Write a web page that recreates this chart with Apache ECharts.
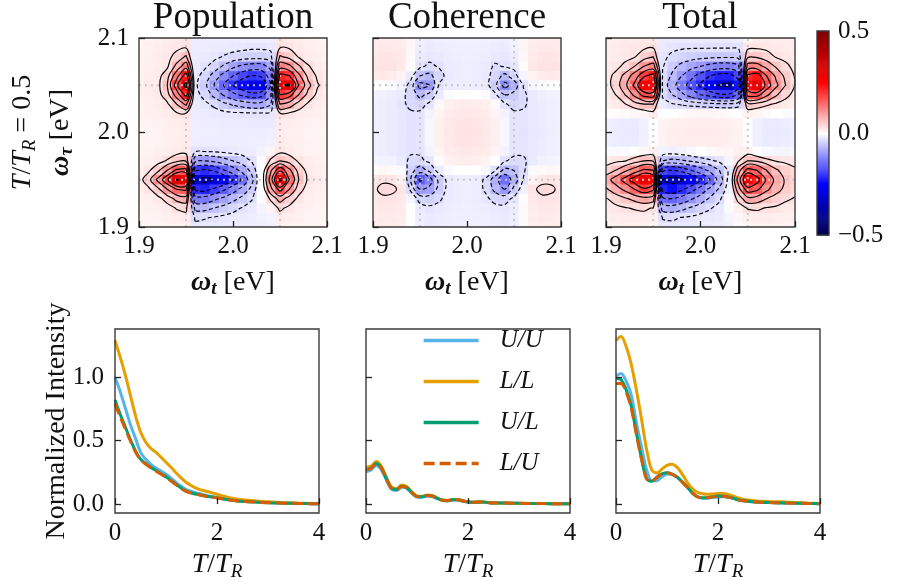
<!DOCTYPE html>
<html><head><meta charset="utf-8">
<script src="https://cdn.jsdelivr.net/npm/echarts@6/dist/echarts.min.js"></script>
<style>html,body{margin:0;padding:0;background:#fff}#c{width:901px;height:582px}</style>
</head><body><div id="c"></div>
<script>
// ---------------- data ----------------
const omegaT   = [1.90,1.91,1.92,1.93,1.94,1.95,1.96,1.97,1.98,1.99,2.00,2.01,2.02,2.03,2.04,2.05,2.06,2.07,2.08,2.09,2.10];
const omegaTau = [1.90,1.91,1.92,1.93,1.94,1.95,1.96,1.97,1.98,1.99,2.00,2.01,2.02,2.03,2.04,2.05,2.06,2.07,2.08,2.09,2.10];
const heatTicks = [1.9, 2.0, 2.1];
const resonances = [1.95, 2.05];
const contourLevels = [-0.3,-0.2,-0.15,-0.1,-0.06,-0.03,0.03,0.06,0.1,0.15,0.2,0.3];
const colorTicks = [-0.5, 0.0, 0.5];
// rows: omega_tau from 2.10 (first row) down to 1.90 (last row); columns: omega_t 1.90 .. 2.10
const popMap = [
 [0.010,0.012,0.015,0.018,0.020,0.025,-0.018,-0.018,-0.018,-0.018,-0.018,-0.018,-0.018,-0.018,-0.018,0.025,0.022,0.018,0.015,0.012,0.010],
 [0.012,0.014,0.017,0.020,0.024,0.028,-0.018,-0.018,-0.019,-0.020,-0.022,-0.024,-0.026,-0.026,-0.024,0.028,0.027,0.021,0.017,0.014,0.012],
 [0.013,0.015,0.018,0.022,0.040,0.065,-0.019,-0.021,-0.024,-0.032,-0.038,-0.042,-0.045,-0.045,-0.040,0.065,0.050,0.028,0.020,0.016,0.013],
 [0.014,0.016,0.019,0.025,0.070,0.130,-0.020,-0.026,-0.040,-0.065,-0.090,-0.110,-0.120,-0.120,-0.085,0.130,0.110,0.065,0.032,0.020,0.015],
 [0.015,0.018,0.021,0.045,0.130,0.230,-0.022,-0.040,-0.075,-0.115,-0.150,-0.180,-0.200,-0.190,-0.125,0.220,0.200,0.110,0.050,0.025,0.018],
 [0.016,0.020,0.022,0.060,0.180,0.330,-0.025,-0.050,-0.100,-0.150,-0.200,-0.240,-0.280,-0.270,-0.150,0.290,0.310,0.150,0.070,0.032,0.020],
 [0.015,0.018,0.021,0.045,0.120,0.220,-0.022,-0.038,-0.070,-0.105,-0.135,-0.160,-0.180,-0.170,-0.110,0.200,0.170,0.100,0.048,0.024,0.018],
 [0.014,0.016,0.018,0.025,0.060,0.110,-0.020,-0.025,-0.035,-0.050,-0.065,-0.075,-0.085,-0.085,-0.065,0.100,0.080,0.045,0.026,0.018,0.015],
 [0.013,0.014,0.016,0.020,0.026,0.028,-0.018,-0.019,-0.021,-0.023,-0.024,-0.025,-0.026,-0.026,-0.024,0.028,0.025,0.020,0.017,0.015,0.013],
 [0.012,0.013,0.014,0.016,0.018,0.020,-0.017,-0.018,-0.018,-0.019,-0.020,-0.020,-0.021,-0.021,-0.020,0.020,0.018,0.016,0.014,0.013,0.012],
 [0.010,0.011,0.012,0.014,0.016,0.018,-0.016,-0.017,-0.017,-0.018,-0.018,-0.018,-0.018,-0.018,-0.017,0.018,0.016,0.014,0.012,0.011,0.010],
 [0.011,0.012,0.013,0.015,0.017,0.020,-0.017,-0.018,-0.018,-0.018,-0.018,-0.018,-0.017,-0.016,-0.015,0.020,0.017,0.015,0.013,0.012,0.011],
 [0.012,0.013,0.015,0.017,0.020,0.022,-0.028,-0.029,-0.027,-0.024,-0.021,-0.019,-0.018,-0.012,0.010,0.024,0.020,0.016,0.013,0.012,0.011],
 [0.014,0.016,0.020,0.032,0.050,0.055,-0.090,-0.100,-0.090,-0.075,-0.060,-0.045,-0.028,-0.005,0.035,0.060,0.045,0.026,0.018,0.014,0.012],
 [0.016,0.025,0.050,0.100,0.160,0.170,-0.190,-0.210,-0.190,-0.155,-0.120,-0.085,-0.050,0.000,0.090,0.190,0.110,0.045,0.022,0.016,0.013],
 [0.020,0.045,0.110,0.190,0.305,0.280,-0.295,-0.330,-0.295,-0.250,-0.200,-0.140,-0.070,0.000,0.120,0.320,0.150,0.060,0.025,0.018,0.015],
 [0.016,0.025,0.050,0.100,0.150,0.160,-0.210,-0.220,-0.190,-0.160,-0.120,-0.085,-0.050,0.000,0.085,0.170,0.100,0.040,0.020,0.015,0.013],
 [0.014,0.016,0.022,0.040,0.070,0.080,-0.130,-0.130,-0.110,-0.090,-0.070,-0.050,-0.032,-0.005,0.035,0.075,0.045,0.024,0.016,0.013,0.012],
 [0.012,0.014,0.016,0.020,0.032,0.038,-0.070,-0.070,-0.060,-0.048,-0.038,-0.028,-0.022,-0.010,0.012,0.035,0.024,0.017,0.014,0.012,0.011],
 [0.011,0.012,0.013,0.015,0.018,0.020,-0.035,-0.032,-0.028,-0.024,-0.021,-0.019,-0.018,-0.015,-0.012,0.020,0.017,0.014,0.012,0.011,0.010],
 [0.010,0.010,0.011,0.012,0.014,0.016,-0.022,-0.021,-0.020,-0.019,-0.018,-0.018,-0.017,-0.016,-0.015,0.016,0.014,0.012,0.011,0.010,0.010]
];
const cohMap = [
 [0.018,0.020,0.020,0.018,0.008,-0.015,-0.018,-0.016,-0.015,-0.015,-0.015,-0.015,-0.015,-0.016,-0.018,-0.012,0.010,0.018,0.020,0.020,0.018],
 [0.020,0.022,0.022,0.020,0.008,-0.017,-0.020,-0.018,-0.017,-0.016,-0.016,-0.016,-0.017,-0.018,-0.020,-0.014,0.010,0.020,0.022,0.022,0.020],
 [0.022,0.025,0.025,0.022,0.006,-0.020,-0.024,-0.022,-0.018,-0.017,-0.016,-0.017,-0.018,-0.022,-0.024,-0.018,0.008,0.022,0.025,0.025,0.022],
 [0.024,0.027,0.027,0.023,0.002,-0.025,-0.035,-0.028,-0.020,-0.018,-0.017,-0.018,-0.020,-0.034,-0.028,-0.024,0.004,0.023,0.027,0.027,0.024],
 [0.020,0.022,0.020,0.012,-0.020,-0.060,-0.070,-0.040,-0.022,-0.018,-0.017,-0.018,-0.022,-0.040,-0.070,-0.040,-0.010,0.012,0.020,0.022,0.020],
 [0.002,0.000,-0.005,-0.012,-0.040,-0.115,-0.100,-0.028,-0.020,-0.018,-0.017,-0.018,-0.020,-0.050,-0.115,-0.080,-0.028,-0.010,-0.005,0.000,0.002],
 [-0.012,-0.015,-0.018,-0.022,-0.040,-0.070,-0.050,-0.020,-0.005,0.000,0.002,0.000,-0.005,-0.025,-0.060,-0.050,-0.035,-0.020,-0.016,-0.014,-0.012],
 [-0.015,-0.017,-0.020,-0.025,-0.035,-0.040,-0.025,0.005,0.015,0.018,0.020,0.018,0.015,0.005,-0.026,-0.040,-0.034,-0.022,-0.018,-0.016,-0.015],
 [-0.015,-0.017,-0.020,-0.024,-0.027,-0.025,-0.012,0.012,0.020,0.022,0.024,0.022,0.020,0.012,-0.012,-0.025,-0.026,-0.022,-0.018,-0.016,-0.015],
 [-0.015,-0.017,-0.020,-0.024,-0.027,-0.025,-0.008,0.015,0.022,0.025,0.026,0.025,0.022,0.015,-0.008,-0.025,-0.026,-0.022,-0.018,-0.016,-0.015],
 [-0.015,-0.017,-0.020,-0.024,-0.027,-0.025,-0.008,0.015,0.023,0.026,0.027,0.026,0.023,0.015,-0.008,-0.025,-0.027,-0.024,-0.020,-0.017,-0.015],
 [-0.015,-0.017,-0.020,-0.024,-0.027,-0.025,-0.008,0.015,0.022,0.025,0.026,0.025,0.022,0.015,-0.008,-0.025,-0.026,-0.022,-0.018,-0.016,-0.015],
 [-0.015,-0.017,-0.020,-0.024,-0.027,-0.026,-0.012,0.012,0.020,0.022,0.024,0.022,0.020,0.012,-0.012,-0.025,-0.026,-0.022,-0.018,-0.016,-0.015],
 [-0.010,-0.012,-0.014,-0.020,-0.035,-0.035,-0.025,0.002,0.014,0.017,0.019,0.017,0.012,0.000,-0.028,-0.035,-0.034,-0.020,-0.014,-0.012,-0.010],
 [0.005,0.008,0.005,-0.005,-0.045,-0.080,-0.050,-0.020,-0.005,0.000,0.002,0.000,-0.008,-0.028,-0.070,-0.060,-0.035,-0.005,0.006,0.008,0.005],
 [0.022,0.026,0.026,0.015,-0.060,-0.160,-0.120,-0.050,-0.022,-0.018,-0.017,-0.018,-0.035,-0.080,-0.140,-0.080,-0.028,0.012,0.024,0.026,0.022],
 [0.025,0.036,0.034,0.026,-0.035,-0.100,-0.090,-0.050,-0.022,-0.018,-0.017,-0.018,-0.035,-0.070,-0.100,-0.050,-0.015,0.026,0.036,0.033,0.025],
 [0.022,0.026,0.026,0.022,-0.010,-0.040,-0.045,-0.035,-0.020,-0.018,-0.017,-0.018,-0.024,-0.040,-0.040,-0.025,0.002,0.022,0.026,0.026,0.022],
 [0.020,0.023,0.023,0.020,0.000,-0.020,-0.025,-0.022,-0.018,-0.017,-0.016,-0.017,-0.018,-0.022,-0.024,-0.018,0.006,0.020,0.023,0.023,0.020],
 [0.018,0.021,0.021,0.018,0.002,-0.018,-0.022,-0.019,-0.017,-0.016,-0.016,-0.016,-0.017,-0.019,-0.021,-0.016,0.006,0.018,0.021,0.021,0.018],
 [0.016,0.019,0.019,0.016,0.002,-0.016,-0.020,-0.018,-0.016,-0.015,-0.015,-0.015,-0.016,-0.018,-0.020,-0.015,0.005,0.016,0.019,0.019,0.016]
];
const totMap = [
 [0.016,0.018,0.020,0.020,0.020,0.018,-0.018,-0.020,-0.020,-0.020,-0.020,-0.020,-0.020,-0.020,-0.018,0.012,0.018,0.020,0.020,0.019,0.018],
 [0.018,0.020,0.022,0.024,0.026,0.028,-0.022,-0.025,-0.027,-0.028,-0.028,-0.028,-0.028,-0.028,-0.027,0.024,0.026,0.024,0.022,0.020,0.018],
 [0.018,0.020,0.024,0.028,0.045,0.060,-0.025,-0.035,-0.042,-0.046,-0.050,-0.053,-0.055,-0.055,-0.050,0.055,0.055,0.042,0.028,0.024,0.020],
 [0.020,0.024,0.035,0.060,0.100,0.120,-0.028,-0.050,-0.070,-0.085,-0.100,-0.115,-0.125,-0.125,-0.110,0.120,0.120,0.085,0.055,0.035,0.024],
 [0.022,0.035,0.070,0.120,0.190,0.220,-0.035,-0.065,-0.100,-0.135,-0.170,-0.200,-0.220,-0.220,-0.180,0.210,0.230,0.150,0.090,0.050,0.028],
 [0.020,0.040,0.085,0.160,0.270,0.260,-0.040,-0.080,-0.130,-0.170,-0.210,-0.260,-0.310,-0.320,-0.230,0.240,0.290,0.180,0.110,0.060,0.030],
 [0.018,0.030,0.060,0.110,0.170,0.180,-0.035,-0.060,-0.090,-0.120,-0.150,-0.170,-0.190,-0.190,-0.150,0.170,0.170,0.110,0.065,0.038,0.022],
 [0.015,0.020,0.028,0.045,0.060,0.060,-0.020,-0.028,-0.034,-0.040,-0.045,-0.050,-0.052,-0.052,-0.042,0.050,0.045,0.035,0.026,0.020,0.016],
 [0.002,0.003,0.005,0.008,0.012,0.020,-0.002,0.000,0.004,0.008,0.010,0.010,0.008,0.004,0.000,0.014,0.010,0.005,0.000,-0.003,-0.005],
 [-0.015,-0.018,-0.020,-0.020,-0.015,0.000,0.012,0.015,0.017,0.018,0.018,0.018,0.017,0.015,0.012,0.000,-0.015,-0.020,-0.020,-0.018,-0.015],
 [-0.016,-0.019,-0.021,-0.021,-0.016,0.000,0.013,0.017,0.019,0.020,0.020,0.020,0.019,0.017,0.013,0.000,-0.016,-0.021,-0.021,-0.019,-0.016],
 [-0.015,-0.018,-0.020,-0.020,-0.015,0.002,0.013,0.016,0.018,0.019,0.019,0.019,0.018,0.016,0.013,0.002,-0.015,-0.020,-0.020,-0.018,-0.015],
 [-0.004,-0.005,-0.004,0.000,0.008,0.015,-0.012,-0.016,-0.012,-0.006,0.000,0.005,0.008,0.010,0.014,0.016,0.002,-0.006,-0.010,-0.010,-0.008],
 [0.020,0.025,0.028,0.045,0.060,0.055,-0.060,-0.070,-0.065,-0.055,-0.045,-0.035,-0.025,-0.010,0.028,0.060,0.055,0.040,0.028,0.025,0.020],
 [0.040,0.060,0.090,0.120,0.160,0.150,-0.180,-0.200,-0.180,-0.150,-0.120,-0.090,-0.060,-0.025,0.080,0.170,0.150,0.100,0.065,0.045,0.035],
 [0.080,0.120,0.170,0.230,0.290,0.250,-0.310,-0.340,-0.310,-0.260,-0.210,-0.150,-0.080,-0.020,0.120,0.280,0.220,0.140,0.085,0.055,0.040],
 [0.055,0.080,0.110,0.150,0.190,0.160,-0.220,-0.240,-0.210,-0.170,-0.130,-0.090,-0.055,-0.015,0.080,0.180,0.160,0.110,0.075,0.050,0.038],
 [0.028,0.040,0.055,0.070,0.085,0.075,-0.140,-0.150,-0.130,-0.105,-0.080,-0.055,-0.035,-0.005,0.040,0.085,0.080,0.060,0.045,0.034,0.028],
 [0.020,0.024,0.028,0.032,0.035,0.028,-0.075,-0.080,-0.070,-0.055,-0.042,-0.032,-0.022,-0.005,0.015,0.032,0.034,0.028,0.026,0.022,0.020],
 [0.016,0.018,0.020,0.020,0.020,0.016,-0.032,-0.034,-0.029,-0.026,-0.022,-0.020,-0.018,-0.010,0.008,0.016,0.018,0.018,0.017,0.016,0.015],
 [0.014,0.015,0.016,0.016,0.015,0.012,-0.022,-0.022,-0.021,-0.020,-0.019,-0.018,-0.016,-0.012,0.005,0.012,0.014,0.014,0.014,0.013,0.012]
];
// time traces
const tGrid = [0,0.1,0.2,0.3,0.4,0.5,0.6,0.7,0.8,0.9,1.0,1.1,1.2,1.3,1.4,1.5,1.6,1.7,1.8,1.9,2.0,2.1,2.2,2.3,2.4,2.5,2.75,3.0,3.25,3.5,3.75,4.0];
const popUU = [1.00,0.89,0.76,0.63,0.52,0.41,0.355,0.315,0.285,0.26,0.235,0.205,0.17,0.14,0.115,0.10,0.088,0.078,0.068,0.06,0.053,0.045,0.038,0.032,0.027,0.023,0.017,0.012,0.009,0.006,0.004,0.003];
const popLL = [1.29,1.16,1.02,0.86,0.70,0.57,0.49,0.44,0.41,0.37,0.33,0.29,0.245,0.205,0.17,0.145,0.125,0.11,0.10,0.09,0.078,0.066,0.055,0.046,0.039,0.034,0.026,0.018,0.013,0.009,0.006,0.005];
const popUL = [0.82,0.71,0.61,0.51,0.42,0.355,0.32,0.29,0.265,0.24,0.215,0.185,0.155,0.125,0.10,0.088,0.078,0.07,0.062,0.056,0.05,0.043,0.036,0.03,0.025,0.022,0.016,0.011,0.008,0.006,0.004,0.003];
const popLU = [0.79,0.69,0.595,0.50,0.413,0.35,0.316,0.287,0.262,0.237,0.212,0.182,0.152,0.123,0.099,0.087,0.077,0.069,0.061,0.055,0.049,0.042,0.035,0.03,0.025,0.021,0.016,0.011,0.008,0.006,0.004,0.003];
const cohUU = [0.255,0.27,0.305,0.272,0.19,0.117,0.107,0.132,0.123,0.085,0.056,0.054,0.064,0.06,0.042,0.028,0.025,0.032,0.032,0.023,0.016,0.013,0.015,0.015,0.011,0.009,0.007,0.006,0.005,0.004,0.003,0.003];
const cohLL = [0.29,0.30,0.335,0.30,0.212,0.134,0.124,0.15,0.138,0.096,0.065,0.062,0.072,0.068,0.048,0.032,0.029,0.036,0.036,0.027,0.018,0.015,0.017,0.017,0.013,0.01,0.008,0.007,0.005,0.004,0.003,0.003];
const cohUL = [0.27,0.285,0.32,0.285,0.20,0.125,0.115,0.14,0.13,0.09,0.06,0.058,0.068,0.064,0.045,0.03,0.027,0.034,0.034,0.025,0.017,0.014,0.016,0.016,0.012,0.009,0.008,0.006,0.005,0.004,0.003,0.003];
const cohLU = [0.268,0.283,0.318,0.284,0.199,0.124,0.114,0.139,0.129,0.089,0.06,0.058,0.067,0.063,0.045,0.03,0.027,0.034,0.034,0.025,0.017,0.014,0.016,0.016,0.012,0.009,0.008,0.006,0.005,0.004,0.003,0.003];
const totUU = [1.01,1.03,0.97,0.86,0.64,0.45,0.27,0.185,0.185,0.215,0.238,0.235,0.212,0.175,0.133,0.085,0.056,0.046,0.046,0.052,0.057,0.058,0.055,0.046,0.034,0.027,0.016,0.013,0.01,0.008,0.005,0.004];
const totLL = [1.29,1.32,1.24,1.10,0.90,0.67,0.43,0.27,0.245,0.275,0.305,0.315,0.29,0.235,0.17,0.12,0.093,0.082,0.078,0.08,0.083,0.083,0.077,0.063,0.048,0.037,0.025,0.021,0.018,0.013,0.008,0.005];
const totUL = [0.99,0.98,0.90,0.77,0.56,0.36,0.20,0.18,0.212,0.238,0.247,0.237,0.213,0.175,0.133,0.088,0.058,0.05,0.052,0.058,0.063,0.062,0.056,0.046,0.034,0.026,0.016,0.012,0.009,0.007,0.005,0.003];
const totLU = [0.95,0.95,0.88,0.755,0.55,0.355,0.198,0.178,0.21,0.236,0.245,0.235,0.211,0.173,0.131,0.087,0.057,0.049,0.051,0.057,0.062,0.061,0.055,0.045,0.033,0.026,0.016,0.012,0.009,0.007,0.005,0.003];
const intensityTicks = [0, 0.5, 1.0];
const timeTicks = [0, 2, 4];
const pathwayNames = ['U/U', 'L/L', 'U/L', 'L/U'];

// ---------------- helpers ----------------
const SERIF = "'Liberation Serif','DejaVu Serif',serif";
const TXT = '#111';
const wLo = omegaT[0], wHi = omegaT[omegaT.length - 1];
const tLo = omegaTau[0], tHi = omegaTau[omegaTau.length - 1];
const hx = (omegaT[1] - omegaT[0]) / 2, hy = (omegaTau[1] - omegaTau[0]) / 2;

function heatData(rows) {
  const out = [];
  for (let r = 0; r < rows.length; r++) {
    const y = omegaTau[omegaTau.length - 1 - r];
    for (let c = 0; c < rows[r].length; c++) out.push([omegaT[c], y, rows[r][c]]);
  }
  return out;
}
function renderCell(params, api) {
  const x = api.value(0), y = api.value(1);
  const p0 = api.coord([Math.max(wLo, x - hx), Math.min(tHi, y + hy)]);
  const p1 = api.coord([Math.min(wHi, x + hx), Math.max(tLo, y - hy)]);
  return {type: 'rect', shape: {x: p0[0], y: p0[1], width: p1[0] - p0[0] + 0.7, height: p1[1] - p0[1] + 0.7},
          style: {fill: api.visual('color')}};
}
const cbLevels = [];
for (let k = 0; k <= 200; k++) cbLevels.push(-0.5 + k * 0.005);
function renderBar(params, api) {
  const v = api.value(1);
  const p0 = api.coord([0, Math.min(0.5, v + 0.0025)]);
  const p1 = api.coord([1, Math.max(-0.5, v - 0.0025)]);
  return {type: 'rect', shape: {x: p0[0], y: p0[1], width: p1[0] - p0[0], height: p1[1] - p0[1] + 0.6},
          style: {fill: api.visual('color')}};
}
function traceLevel(Z, xs, ys, level) {
  const nx = xs.length, ny = ys.length, pts = {}, adj = {}, segs = [];
  function ept(t, i, j) {
    const k = t + i + '_' + j;
    if (!pts[k]) {
      if (t === 'h') { const v0 = Z[j][i], v1 = Z[j][i + 1], f = (level - v0) / (v1 - v0); pts[k] = [xs[i] + f * (xs[i + 1] - xs[i]), ys[j]]; }
      else { const v0 = Z[j][i], v1 = Z[j + 1][i], f = (level - v0) / (v1 - v0); pts[k] = [xs[i], ys[j] + f * (ys[j + 1] - ys[j])]; }
    }
    return k;
  }
  function add(a, b) { const s = segs.length; segs.push([a, b]); (adj[a] = adj[a] || []).push(s); (adj[b] = adj[b] || []).push(s); }
  for (let j = 0; j < ny - 1; j++) for (let i = 0; i < nx - 1; i++) {
    const a = Z[j][i], b = Z[j][i + 1], c = Z[j + 1][i + 1], d = Z[j + 1][i];
    const A = a >= level, B = b >= level, C = c >= level, D = d >= level;
    const bot = A !== B ? ept('h', i, j) : null;
    const rig = B !== C ? ept('v', i + 1, j) : null;
    const top = D !== C ? ept('h', i, j + 1) : null;
    const lef = A !== D ? ept('v', i, j) : null;
    const list = [bot, rig, top, lef].filter(e => e);
    if (list.length === 2) add(list[0], list[1]);
    else if (list.length === 4) {
      const ctr = (a + b + c + d) / 4 >= level;
      if (ctr === A) { add(bot, rig); add(top, lef); } else { add(bot, lef); add(rig, top); }
    }
  }
  const used = segs.map(() => false), out = [];
  function walk(k, s) {
    const path = [k];
    while (s !== undefined) {
      used[s] = true;
      const sg = segs[s]; k = sg[0] === k ? sg[1] : sg[0]; path.push(k);
      s = (adj[k] || []).find(t => !used[t]);
    }
    return path;
  }
  Object.keys(adj).forEach(k => { if (adj[k].length === 1 && !used[adj[k][0]]) out.push({closed: false, pts: walk(k, adj[k][0]).map(q => pts[q])}); });
  segs.forEach((sg, s) => { if (!used[s]) { const p = walk(sg[0], s); p.pop(); out.push({closed: true, pts: p.map(q => pts[q])}); } });
  return out;
}
function contourSeries(rows, gi) {
  const Z = rows.slice().reverse();
  const lines = [];
  contourLevels.forEach(lv => traceLevel(Z, omegaT, omegaTau, lv).forEach(l => lines.push({lv: lv, closed: l.closed, pts: l.pts})));
  return {type: 'custom', xAxisIndex: gi, yAxisIndex: gi, z: 5, silent: true,
    data: lines.map((l, k) => [l.pts[0][0], l.pts[0][1], k]),
    renderItem: function (params, api) {
      const l = lines[params.dataIndex];
      const pts = l.pts.map(p => api.coord(p));
      return {type: l.closed ? 'polygon' : 'polyline', shape: {points: pts, smooth: 0.35},
              style: {fill: 'none', stroke: '#000', lineWidth: 1.15, lineDash: l.lv < 0 ? [4, 2.5] : null}};
    }};
}
function guide(gi, pts) {
  return {type: 'line', xAxisIndex: gi, yAxisIndex: gi, data: pts, symbol: 'none', silent: true, z: 4,
          lineStyle: {color: '#c6c6c6', width: 1.8, type: [2, 4]}};
}

const rich = {
  n: {fontFamily: SERIF, fontSize: 28, color: TXT},
  i: {fontFamily: SERIF, fontSize: 28, fontStyle: 'italic', color: TXT},
  b: {fontFamily: SERIF, fontSize: 28, fontStyle: 'italic', fontWeight: 'bold', color: TXT},
  s: {fontFamily: SERIF, fontSize: 19, fontStyle: 'italic', color: TXT, padding: [14, 0, 0, 0]},
  sb: {fontFamily: SERIF, fontSize: 19, fontStyle: 'italic', fontWeight: 'bold', color: TXT, padding: [14, 0, 0, 0]}
};
const tickLabel = {fontFamily: SERIF, fontSize: 25, color: TXT};
const tickStyle = {show: true, inside: true, length: 6, lineStyle: {color: '#222', width: 1.3}};

// ---------------- layout ----------------
const heatGrids = [
  {left: 139, top: 38, width: 188, height: 189},
  {left: 373, top: 38, width: 188, height: 189},
  {left: 606, top: 38, width: 189, height: 189}
];
const cbGrid = {left: 817, top: 31, width: 12, height: 204};
const lineGrids = [
  {left: 115, top: 329, width: 204, height: 184},
  {left: 366, top: 329, width: 204, height: 184},
  {left: 616, top: 329, width: 204, height: 184}
];
const grids = [...heatGrids, cbGrid, ...lineGrids].map(g => Object.assign(
  {show: true, z: 10, borderColor: '#3a3a3a', borderWidth: 1.4, backgroundColor: 'rgba(0,0,0,0)', containLabel: false, outerBoundsMode: 'none'}, g));

const xAxes = [], yAxes = [];
heatGrids.forEach((g, k) => {
  xAxes.push({gridIndex: k, type: 'value', min: wLo, max: wHi, z: 11, axisLine: {show: false}, splitLine: {show: false},
    axisTick: Object.assign({customValues: heatTicks}, tickStyle),
    axisLabel: Object.assign({customValues: heatTicks, formatter: v => v.toFixed(1), margin: 7}, tickLabel),
    name: '{b|ω}{sb|t}{n| [eV]}', nameLocation: 'middle', nameGap: 39, nameMoveOverlap: false, nameTextStyle: {rich: rich}});
  yAxes.push({gridIndex: k, type: 'value', min: tLo, max: tHi, z: 11, position: 'left', axisLine: {show: false}, splitLine: {show: false},
    axisTick: Object.assign({customValues: heatTicks}, tickStyle),
    axisLabel: Object.assign({show: k === 0, customValues: heatTicks, formatter: v => v.toFixed(1), margin: 10}, tickLabel),
    name: k === 0 ? '{b|ω}{sb|τ}{n| [eV]}' : '', nameLocation: 'middle', nameGap: 62, nameRotate: 90,
    nameMoveOverlap: false, nameTextStyle: {rich: rich}});
});
xAxes.push({gridIndex: 3, type: 'value', min: 0, max: 1, show: false});
yAxes.push({gridIndex: 3, type: 'value', min: -0.5, max: 0.5, position: 'right', z: 11, axisLine: {show: false}, splitLine: {show: false},
  axisTick: {show: false},
  axisLabel: Object.assign({customValues: colorTicks, formatter: v => (v < 0 ? '\u2212' : '') + Math.abs(v).toFixed(1), margin: 9}, tickLabel)});
lineGrids.forEach((g, k) => {
  const gi = 4 + k;
  xAxes.push({gridIndex: gi, type: 'value', min: 0, max: 4, z: 11, axisLine: {show: false}, splitLine: {show: false},
    axisTick: Object.assign({customValues: timeTicks}, tickStyle),
    axisLabel: Object.assign({customValues: timeTicks, formatter: v => String(v), margin: 8}, tickLabel),
    name: '{i|T}{n|/}{i|T}{s|R}', nameLocation: 'middle', nameGap: 35, nameMoveOverlap: false, nameTextStyle: {rich: rich}});
  yAxes.push({gridIndex: gi, type: 'value', min: -0.07, max: 1.38, z: 11, position: 'left', axisLine: {show: false}, splitLine: {show: false},
    axisTick: Object.assign({customValues: intensityTicks}, tickStyle),
    axisLabel: Object.assign({show: k === 0, customValues: intensityTicks, formatter: v => v.toFixed(1), margin: 11}, tickLabel),
    name: k === 0 ? 'Normalized Intensity' : '', nameLocation: 'middle', nameGap: 44, nameRotate: 90, nameMoveOverlap: false,
    nameTextStyle: {fontFamily: SERIF, fontSize: 28, color: TXT}});
});
// extra (label-only) y axis on the Population map for the waiting-time annotation
yAxes.push({gridIndex: 0, type: 'value', min: tLo, max: tHi, position: 'left', offset: 0, z: 11,
  axisLine: {show: false, onZero: false}, axisTick: {show: false}, axisLabel: {show: false}, splitLine: {show: false},
  name: '{i|T}{n|/}{i|T}{s|R}{n| = 0.5}', nameLocation: 'middle', nameGap: 100, nameRotate: 90, nameMoveOverlap: false,
  nameTextStyle: {rich: rich}});

// ---------------- series ----------------
const maps = [popMap, cohMap, totMap];
const series = [];
maps.forEach((m, k) => series.push({type: 'custom', xAxisIndex: k, yAxisIndex: k, z: 1, silent: true, clip: true,
  renderItem: renderCell, data: heatData(m)}));
series.push({type: 'custom', xAxisIndex: 3, yAxisIndex: 3, z: 1, silent: true, renderItem: renderBar,
  data: cbLevels.map(v => [0.5, v, v])});
maps.forEach((m, k) => resonances.forEach(r => {
  series.push(guide(k, [[r, tLo], [r, tHi]]));
  series.push(guide(k, [[wLo, r], [wHi, r]]));
}));
maps.forEach((m, k) => series.push(contourSeries(m, k)));

const pathwayStyle = {
  'U/U': {color: '#56B4E9', type: 'solid'},
  'L/L': {color: '#E69F00', type: 'solid'},
  'U/L': {color: '#009E73', type: 'solid'},
  'L/U': {color: '#D55E00', type: [11, 5]}
};
const traceSets = [[popUU, popLL, popUL, popLU], [cohUU, cohLL, cohUL, cohLU], [totUU, totLL, totUL, totLU]];
traceSets.forEach((set, k) => set.forEach((arr, s) => {
  const nm = pathwayNames[s];
  series.push({type: 'line', name: nm, xAxisIndex: 4 + k, yAxisIndex: 4 + k, z: 3 + s * 0.1,
    data: tGrid.map((t, i) => [t, arr[i]]), symbol: 'none', showSymbol: false, smooth: 0.3,
    lineStyle: {width: 3, color: pathwayStyle[nm].color, type: pathwayStyle[nm].type, cap: 'butt'},
    itemStyle: {color: pathwayStyle[nm].color}});
}));

const option = {
  animation: false,
  backgroundColor: '#fff',
  title: [
    {text: 'Population', left: 233, top: 0, padding: 0, textAlign: 'center', textStyle: {fontFamily: SERIF, fontSize: 37, fontWeight: 'normal', color: TXT}},
    {text: 'Coherence', left: 467, top: 0, padding: 0, textAlign: 'center', textStyle: {fontFamily: SERIF, fontSize: 37, fontWeight: 'normal', color: TXT}},
    {text: 'Total', left: 700, top: 0, padding: 0, textAlign: 'center', textStyle: {fontFamily: SERIF, fontSize: 37, fontWeight: 'normal', color: TXT}}
  ],
  legend: {data: pathwayNames, orient: 'vertical', left: 417, top: 323, itemWidth: 55, itemHeight: 14, itemGap: 16,
    selectedMode: false, itemStyle: {opacity: 0}, lineStyle: {width: 3.3},
    textStyle: {fontFamily: SERIF, fontStyle: 'italic', fontSize: 25, color: TXT, padding: [0, 0, 0, 16]}},
  visualMap: {type: 'continuous', show: false, min: -0.5, max: 0.5, dimension: 2, seriesIndex: [0, 1, 2, 3],
    inRange: {color: ['#00004c', '#0000ff', '#ffffff', '#ff0000', '#800000']}},
  grid: grids, xAxis: xAxes, yAxis: yAxes, series: series
};
const chart = echarts.init(document.getElementById('c'));
chart.setOption(option);
</script></body></html>
